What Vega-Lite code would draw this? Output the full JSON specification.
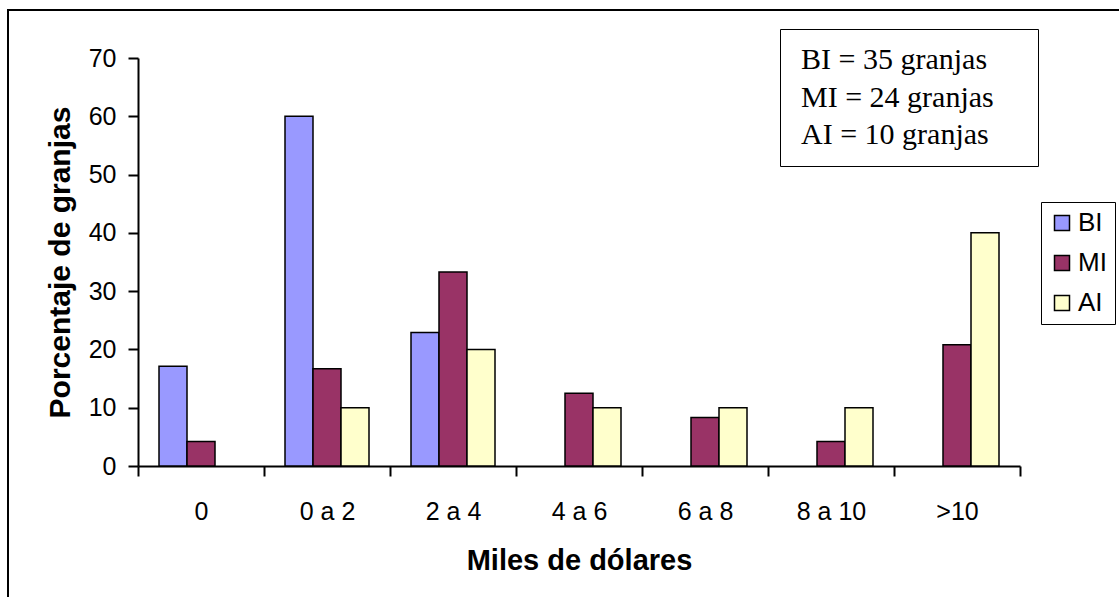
{
  "$schema": "https://vega.github.io/schema/vega-lite/v6.json",
  "width": 1131,
  "height": 607,
  "autosize": {"type": "none"},
  "padding": {"left": 8, "top": 10, "right": -20, "bottom": -20},
  "background": "white",
  "config": {
    "view": {"stroke": "black", "strokeWidth": 2, "fill": "white"},
    "axis": {
      "domainColor": "black",
      "tickColor": "black",
      "labelColor": "black",
      "titleColor": "black",
      "grid": false,
      "domainWidth": 2,
      "tickWidth": 2,
      "labelFont": "Liberation Sans",
      "titleFont": "Liberation Sans"
    }
  },
  "layer": [
    {
      "data": {
        "values": [
          {"rango": "0", "grupo": "BI", "porcentaje": 17.1},
          {"rango": "0", "grupo": "MI", "porcentaje": 4.2},
          {"rango": "0 a 2", "grupo": "BI", "porcentaje": 60},
          {"rango": "0 a 2", "grupo": "MI", "porcentaje": 16.7},
          {"rango": "0 a 2", "grupo": "AI", "porcentaje": 10},
          {"rango": "2 a 4", "grupo": "BI", "porcentaje": 22.9},
          {"rango": "2 a 4", "grupo": "MI", "porcentaje": 33.3},
          {"rango": "2 a 4", "grupo": "AI", "porcentaje": 20},
          {"rango": "4 a 6", "grupo": "MI", "porcentaje": 12.5},
          {"rango": "4 a 6", "grupo": "AI", "porcentaje": 10},
          {"rango": "6 a 8", "grupo": "MI", "porcentaje": 8.3},
          {"rango": "6 a 8", "grupo": "AI", "porcentaje": 10},
          {"rango": "8 a 10", "grupo": "MI", "porcentaje": 4.2},
          {"rango": "8 a 10", "grupo": "AI", "porcentaje": 10},
          {"rango": ">10", "grupo": "MI", "porcentaje": 20.8},
          {"rango": ">10", "grupo": "AI", "porcentaje": 40}
        ]
      },
      "mark": {"type": "bar", "stroke": "black", "strokeWidth": 1.5},
      "encoding": {
        "x": {
          "field": "rango",
          "type": "nominal",
          "scale": {
            "domain": ["0", "0 a 2", "2 a 4", "4 a 6", "6 a 8", "8 a 10", ">10"],
            "range": [130, 1012],
            "paddingInner": 0,
            "paddingOuter": 0
          },
          "axis": {
            "title": "Miles de dólares",
            "titleFontSize": 29,
            "titleFontWeight": "bold",
            "titlePadding": 22,
            "labelFontSize": 25,
            "labelPadding": 23,
            "labelAngle": 0,
            "tickSize": 10,
            "tickBand": "extent",
            "offset": -151
          }
        },
        "xOffset": {
          "field": "grupo",
          "type": "nominal",
          "scale": {"domain": ["BI", "MI", "AI"], "paddingInner": 0, "paddingOuter": 0.75}
        },
        "y": {
          "field": "porcentaje",
          "type": "quantitative",
          "stack": null,
          "scale": {"domain": [0, 70], "range": [456, 48], "nice": false},
          "axis": {
            "title": "Porcentaje de granjas",
            "titleFontSize": 30,
            "titleFontWeight": "bold",
            "titlePadding": 13,
            "labelFontSize": 25,
            "labelPadding": 12,
            "tickSize": 10,
            "values": [0, 10, 20, 30, 40, 50, 60, 70],
            "offset": -130
          }
        },
        "color": {
          "field": "grupo",
          "type": "nominal",
          "scale": {"domain": ["BI", "MI", "AI"], "range": ["#9999FF", "#993366", "#FFFFCC"]},
          "legend": {
            "title": null,
            "orient": "none",
            "legendX": 1033,
            "legendY": 192,
            "symbolType": "square",
            "symbolSize": 225,
            "symbolStrokeColor": "black",
            "symbolStrokeWidth": 1.5,
            "labelFont": "Liberation Sans",
            "labelFontSize": 26,
            "labelColor": "black",
            "labelOffset": 3,
            "rowPadding": 14,
            "padding": 8,
            "strokeColor": "black"
          }
        }
      }
    },
    {
      "data": {
        "values": [
          {"nota": "BI = 35 granjas"},
          {"nota": "MI = 24 granjas"},
          {"nota": "AI = 10 granjas"}
        ]
      },
      "mark": {"type": "point", "opacity": 0},
      "encoding": {
        "shape": {
          "field": "nota",
          "type": "nominal",
          "scale": {"domain": ["BI = 35 granjas", "MI = 24 granjas", "AI = 10 granjas"]},
          "legend": {
            "title": null,
            "orient": "none",
            "legendX": 772,
            "legendY": 19,
            "symbolSize": 1,
            "symbolOpacity": 0,
            "symbolStrokeWidth": 0,
            "symbolOffset": 210,
            "labelFont": "Liberation Serif",
            "labelFontSize": 30,
            "labelColor": "black",
            "labelOffset": -235,
            "labelLimit": 0,
            "rowPadding": 7.5,
            "padding": 16,
            "strokeColor": "black"
          }
        }
      }
    }
  ]
}
